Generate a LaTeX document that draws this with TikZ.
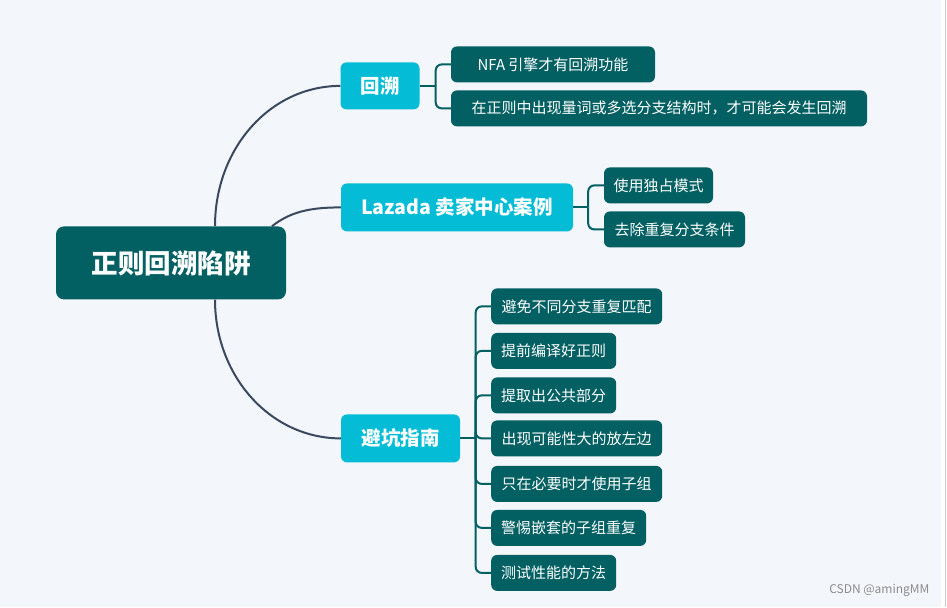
\documentclass[tikz,border=0pt]{standalone}
\usepackage{fontspec}
\setmainfont{Noto Sans CJK SC}
\usepackage{tikz}
\definecolor{mybg}{RGB}{243,246,250}
\definecolor{mydarkteal}{RGB}{2,95,98}
\definecolor{mycyan}{RGB}{4,188,214}
\definecolor{mytrunk}{RGB}{58,72,96}
\definecolor{mymark}{RGB}{140,140,140}

\begin{document}
\begin{tikzpicture}[x=1pt,y=-1pt,
    rootbox/.style={fill=mydarkteal, text=white, rounded corners=8pt, minimum width=230pt, minimum height=73pt, font=\fontsize{26.5}{30}\selectfont\bfseries},
    topicbox/.style={fill=mycyan, text=white, rounded corners=6pt, minimum height=48pt, font=\fontsize{19.5}{23}\selectfont\bfseries},
    leafbox/.style={fill=mydarkteal, text=white, rounded corners=6pt, minimum height=36pt, font=\fontsize{15}{18}\selectfont},
    trunk/.style={draw=mytrunk, line width=2pt},
    branch/.style={draw=mydarkteal, line width=2pt, rounded corners=6pt}]
    % Background panel
    \fill[white] (0,0) rectangle (947,607);
    \fill[mybg] (0,0) rectangle (941,607);
    \draw[gray!40, line width=0.8pt] (945,0) -- (945,607);
    \useasboundingbox (0,0) rectangle (947,607);

    % Root and main topics
    \node[rootbox] (root) at (171,262.5) {正则回溯陷阱};
    \node[topicbox, minimum width=79pt, minimum height=47pt] (huisu) at (380,85.5) {回溯};
    \node[topicbox, minimum width=232pt] (lazada) at (457,207) {Lazada 卖家中心案例};
    \node[topicbox, minimum width=119pt] (bikeng) at (400.5,438) {避坑指南};

    % Leaves of the first two topics
    \node[leafbox, minimum width=204pt] (nfa) at (553,64) {NFA 引擎才有回溯功能};
    \node[leafbox, minimum width=416pt] (liangci) at (659,108) {在正则中出现量词或多选分支结构时，才可能会发生回溯};
    \node[leafbox, minimum width=109pt] (duzhan) at (658.5,185) {使用独占模式};
    \node[leafbox, minimum width=141pt] (quchu) at (674.5,229) {去除重复分支条件};

    % Leaves of the third topic
    \foreach \i/\y/\w/\txt in {1/306/171/避免不同分支重复匹配, 2/350.5/125/提前编译好正则,
        3/395/125/提取出公共部分, 4/438/171/出现可能性大的放左边, 5/483.5/171/只在必要时才使用子组,
        6/527.5/155/警惕嵌套的子组重复, 7/572.5/125/测试性能的方法}
        \node[leafbox, anchor=west, minimum width=\w pt] (tip\i) at (491,\y) {\txt};

    % Curves from the root
    \draw[trunk] ([xshift=44pt]root.north) .. controls +(0,-78) and +(-70,0) .. (huisu.west);
    \draw[trunk] ([xshift=101pt]root.north) .. controls +(18,-14) and +(-32,0) .. (lazada.west);
    \draw[trunk] ([xshift=44pt]root.south) .. controls +(0,77) and +(-70,0) .. (bikeng.west);

    % Brackets to the leaves
    \draw[branch] (huisu.east) -- ++(16,0) coordinate (huisufork);
    \draw[branch] (huisufork) |- (nfa.west);
    \draw[branch] (huisufork) |- (liangci.west);
    \draw[branch] (lazada.east) -- ++(15,0) coordinate (lazadafork);
    \draw[branch] (lazadafork) |- (duzhan.west);
    \draw[branch] (lazadafork) |- (quchu.west);
    \draw[branch] (bikeng.east) -- ++(15.5,0) coordinate (bikengfork);
    \foreach \i in {1,...,7}
        \draw[branch] (bikengfork) |- (tip\i.west);

    % Watermark
    \node[text=mymark, font=\fontsize{12}{14}\selectfont, anchor=east] (mark) at (933,590) {CSDN @amingMM};
\end{tikzpicture}
\end{document}
